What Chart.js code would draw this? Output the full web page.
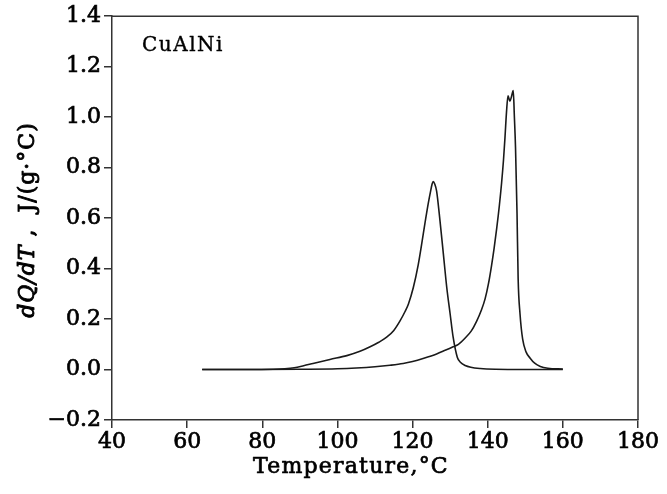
<!DOCTYPE html>
<html>
<head>
<meta charset="utf-8">
<script src="https://cdn.jsdelivr.net/npm/chart.js@4.4.0/dist/chart.umd.min.js"></script>
<style>
html,body{margin:0;padding:0;background:#fff;}
#wrap{width:667px;height:494px;position:relative;}
</style>
</head>
<body>
<div id="wrap"><canvas id="c" width="667" height="494"></canvas></div>
<script>
// Curve 1 (peak near 125.5 °C)
const tempsA = [64, 75, 83, 86, 88.5, 91, 93.5, 98, 102.5, 106, 108.7, 111, 113.1, 115, 116.7, 118, 118.9, 120.2, 121.5, 122.4, 123.3, 124.2, 124.8, 125.2, 125.5, 125.9, 126.4, 127.3, 128.2, 129.1, 130.0, 130.8, 131.9, 132.8, 134, 135.5, 138, 142, 150, 160];
const heatA  = [0, 0, 0.001, 0.003, 0.007, 0.015, 0.024, 0.04, 0.055, 0.072, 0.09, 0.108, 0.128, 0.155, 0.194, 0.23, 0.26, 0.325, 0.415, 0.495, 0.58, 0.66, 0.707, 0.735, 0.745, 0.735, 0.707, 0.589, 0.457, 0.325, 0.22, 0.128, 0.049, 0.028, 0.016, 0.009, 0.004, 0.001, 0, 0];
// Curve 2 (double peak near 146 °C)
const tempsB = [64, 80, 90, 100, 105, 110, 114, 117.5, 120, 123, 126.4, 128.5, 130.8, 132.2, 134, 135.6, 137, 138.3, 139.3, 140.2, 141, 141.7, 142.4, 143.1, 143.7, 144.2, 144.6, 145, 145.4, 145.9, 146.3, 146.8, 147.1, 147.4, 147.8, 148.1, 148.6, 149.3, 150.2, 151.3, 152.5, 154, 156, 160];
const heatB  = [0, 0, 0.001, 0.003, 0.006, 0.011, 0.017, 0.024, 0.032, 0.045, 0.062, 0.075, 0.09, 0.10, 0.125, 0.152, 0.19, 0.235, 0.28, 0.34, 0.41, 0.48, 0.56, 0.65, 0.74, 0.83, 0.92, 1.02, 1.085, 1.063, 1.08, 1.105, 1.0, 0.88, 0.62, 0.36, 0.22, 0.12, 0.07, 0.045, 0.025, 0.012, 0.005, 0.002];

const xMin = 40, xMax = 180, xStep = 20;
const yMin = -0.2, yMax = 1.4, yStep = 0.2;
const sampleLabel = 'CuAlNi';
const xTitle = 'Temperature,°C';

const FONT = '"DejaVu Serif", serif';
const CA = {left:112, right:638, top:15, bottom:420};
const STROKE = 0.7;

const toPts = (xs, ys) => xs.map((x, i) => ({x: x, y: ys[i]}));

function heavyText(ctx, t, x, y) {
  ctx.fillText(t, x, y);
  ctx.strokeText(t, x, y);
}

const decor = {
  id: 'decor',
  afterDraw(chart) {
    const ctx = chart.ctx, a = chart.chartArea;
    ctx.save();
    // frame top & right
    ctx.strokeStyle = '#333';
    ctx.lineWidth = 1.5;
    ctx.beginPath();
    ctx.moveTo(a.left, a.top); ctx.lineTo(a.right, a.top); ctx.lineTo(a.right, a.bottom);
    ctx.stroke();
    ctx.fillStyle = '#000';
    ctx.strokeStyle = '#000';
    ctx.lineWidth = STROKE;
    ctx.lineJoin = 'round';
    // sample label
    ctx.font = '20px ' + FONT;
    ctx.letterSpacing = '1.5px';
    ctx.textAlign = 'left'; ctx.textBaseline = 'middle';
    ctx.lineWidth = 0.4;
    heavyText(ctx, sampleLabel, 142, 46);
    ctx.lineWidth = STROKE;
    // x title
    ctx.font = '22px ' + FONT;
    ctx.letterSpacing = '1.2px';
    ctx.textAlign = 'center'; ctx.textBaseline = 'middle';
    heavyText(ctx, xTitle, 351, 467);
    // y title (rotated, mixed italic)
    ctx.translate(28, 220);
    ctx.rotate(-Math.PI / 2);
    const parts = [
      {t: 'dQ/dT', f: 'italic 22px ' + FONT},
      {t: ' ,  J/(g·°C)', f: '22px ' + FONT}
    ];
    ctx.letterSpacing = '1px';
    ctx.lineWidth = 0.9;
    let total = 0;
    parts.forEach(p => { ctx.font = p.f; p.w = ctx.measureText(p.t).width; total += p.w; });
    let x = -total / 2;
    ctx.textAlign = 'left';
    parts.forEach(p => { ctx.font = p.f; heavyText(ctx, p.t, x, 0); x += p.w; });
    ctx.restore();
  }
};

new Chart(document.getElementById('c'), {
  type: 'scatter',
  data: {
    datasets: [
      {data: toPts(tempsA, heatA), showLine: true, borderColor: '#1a1a1a', borderWidth: 1.6, pointRadius: 0, cubicInterpolationMode: 'monotone'},
      {data: toPts(tempsB, heatB), showLine: true, borderColor: '#1a1a1a', borderWidth: 1.6, pointRadius: 0, cubicInterpolationMode: 'monotone'}
    ]
  },
  options: {
    responsive: false,
    animation: false,
    devicePixelRatio: 1,
    layout: {padding: {left: 0, top: CA.top, right: 667 - CA.right, bottom: 0}},
    plugins: {legend: {display: false}, tooltip: {enabled: false}},
    scales: {
      x: {
        type: 'linear', min: xMin, max: xMax,
        afterFit(s) { s.height = 494 - CA.bottom; },
        ticks: {stepSize: xStep, color: '#000', font: {family: FONT, size: 22}, padding: 1, maxRotation: 0,
                textStrokeColor: '#000', textStrokeWidth: STROKE},
        grid: {drawOnChartArea: false, drawTicks: true, tickLength: 8, color: '#333', lineWidth: 1.5},
        border: {display: true, color: '#333', width: 1.5}
      },
      y: {
        type: 'linear', min: yMin, max: yMax,
        afterFit(s) { s.width = CA.left; },
        ticks: {
          stepSize: yStep, color: '#000', font: {family: FONT, size: 22}, padding: 3,
          textStrokeColor: '#000', textStrokeWidth: STROKE,
          callback: v => { const r = Math.round(v * 10) / 10; return (r < 0 ? '\u2212' : '') + Math.abs(r).toFixed(1); }
        },
        grid: {drawOnChartArea: false, drawTicks: true, tickLength: 8, color: '#333', lineWidth: 1.5},
        border: {display: true, color: '#333', width: 1.5}
      }
    }
  },
  plugins: [decor]
});
</script>
</body>
</html>
